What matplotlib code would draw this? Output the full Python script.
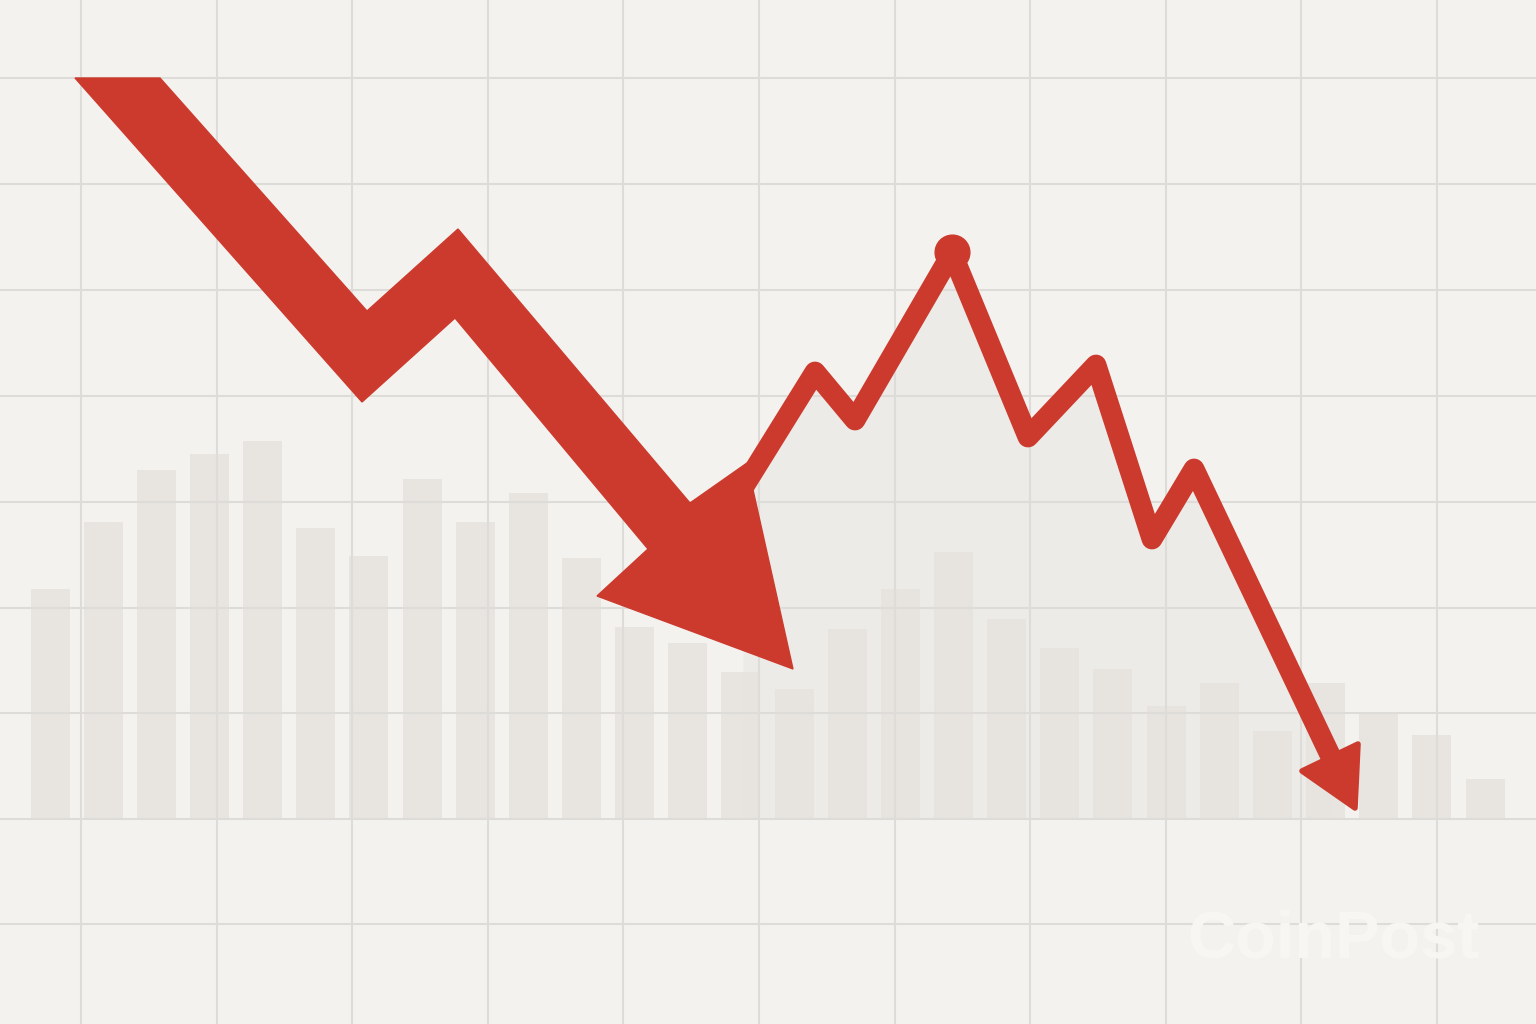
import numpy as np
import matplotlib
matplotlib.use("Agg")
import matplotlib.pyplot as plt
from matplotlib.patches import Polygon

# background volume bars (height above baseline)
bar_heights = [230, 297, 349, 365, 378, 291, 263, 340, 297, 326, 261, 192, 176, 147,
               130, 190, 230, 267, 200, 171, 150, 113, 136, 88, 136, 105, 84, 40]

# big falling arrow outline
big_arrow_x = [75, 160, 367, 458, 690, 747, 793, 597, 648, 455, 362]
big_arrow_y = [741, 741, 508, 590, 316, 356, 150, 223, 270, 501, 417]

# thin price line after the big arrow (starts hidden inside the big arrow head)
line_x = [743, 815, 855, 952, 1028, 1096, 1152, 1194, 1331]
line_y = [331, 447, 399, 566, 382, 454, 280, 350, 62]

# small arrow head at end of line
head_x = [1302, 1358, 1355]
head_y = [48, 75, 11]

peak_x, peak_y = 952, 567

red = "#cc3a2e"
bg = "#f4f2ee"

fig = plt.figure(figsize=(15.36, 10.24), dpi=100)
fig.patch.set_facecolor(bg)
ax = fig.add_axes([0, 0, 1, 1])
ax.set_facecolor(bg)
ax.set_xlim(0, 1536)
ax.set_ylim(-205, 819)

# grid
ax.set_xticks(np.linspace(81, 1437, 11))
ax.set_yticks([741, 635, 529, 423, 317, 211, 106, 0, -105])
ax.grid(True, color="#dedcd8", linewidth=1.5)
ax.set_axisbelow(True)
ax.tick_params(length=0, labelbottom=False, labelleft=False)
for s in ax.spines.values():
    s.set_visible(False)

# bars
bar_x = np.linspace(50, 1485, len(bar_heights))
ax.bar(bar_x, bar_heights, width=39, color="#e4e1dd", alpha=0.75, zorder=0.2)

# shaded area under the thin line
ax.fill_between(line_x, line_y, 0, color="#e6e4e0", alpha=0.45, linewidth=0, zorder=0.3)

# thin line
ax.plot(line_x, line_y, color=red, linewidth=15, solid_joinstyle="round",
        solid_capstyle="butt", zorder=2.5)
ax.plot([peak_x], [peak_y], marker="o", markersize=25, color=red, zorder=5)
ax.add_patch(Polygon(np.column_stack([head_x, head_y]), closed=True,
                     facecolor=red, edgecolor=red, linewidth=4, joinstyle="round", zorder=5))

# big arrow
ax.add_patch(Polygon(np.column_stack([big_arrow_x, big_arrow_y]), closed=True,
                     facecolor=red, edgecolor=red, linewidth=1, joinstyle="miter", zorder=3))

# watermark
ax.text(1333, -121, "CoinPost", fontsize=48, fontweight="bold", family="Liberation Sans",
        color="#f7f6f3", ha="center", va="center", zorder=6)

fig.savefig("out.png", dpi=100, facecolor=bg)
